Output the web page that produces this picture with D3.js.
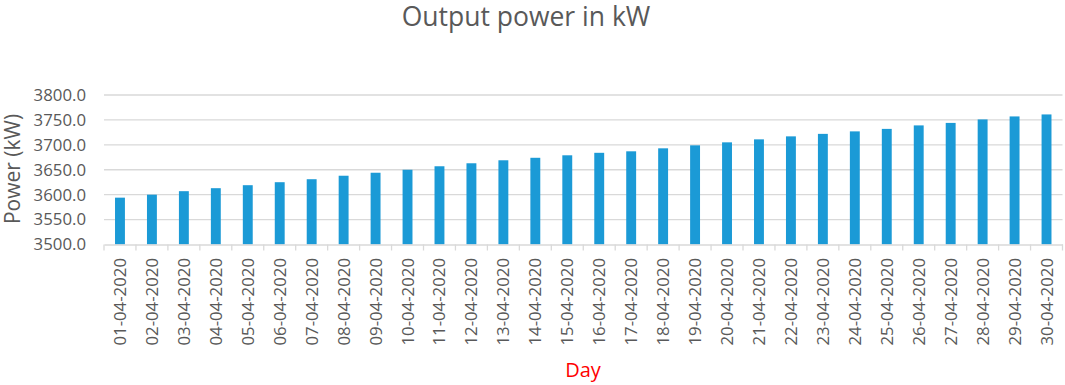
<!DOCTYPE html>
<html>
<head>
<meta charset="utf-8">
<script src="https://cdn.jsdelivr.net/npm/d3@7"></script>
<style>
  html, body { margin: 0; padding: 0; background: #ffffff; }
  svg { display: block; }
  text { font-family: "Open Sans", "Liberation Sans", sans-serif; }
</style>
</head>
<body>
<svg id="chart" width="1065" height="385"></svg>
<script>
const days = ["01-04-2020","02-04-2020","03-04-2020","04-04-2020","05-04-2020","06-04-2020","07-04-2020","08-04-2020","09-04-2020","10-04-2020",
  "11-04-2020","12-04-2020","13-04-2020","14-04-2020","15-04-2020","16-04-2020","17-04-2020","18-04-2020","19-04-2020","20-04-2020",
  "21-04-2020","22-04-2020","23-04-2020","24-04-2020","25-04-2020","26-04-2020","27-04-2020","28-04-2020","29-04-2020","30-04-2020"];
const power = [3594, 3600, 3607, 3613, 3619, 3625, 3631, 3638, 3644, 3650,
  3657, 3663, 3669, 3674, 3679, 3684, 3687, 3693, 3699, 3705,
  3711, 3717, 3722, 3727, 3732, 3739, 3744, 3751, 3757, 3761];
const yTicks = [3500, 3550, 3600, 3650, 3700, 3750, 3800];
const titleText = "Output power in kW";
const yTitle = "Power (kW)";
const xTitle = "Day";

(function () {
const svg = d3.select("#chart");
const mLeft = 104, mRight = 1062.5, mTop = 95, mBottom = 244.5;
const grey = "#595959", gridCol = "#d9d9d9", barCol = "#1b9ad6";

const x = d3.scaleBand().domain(days).range([mLeft, mRight]).paddingInner(0).paddingOuter(0);
const y = d3.scaleLinear().domain([3500, 3800]).range([mBottom, mTop]);

// gridlines
svg.append("g").selectAll("line").data(yTicks.filter(d => d > 3500)).join("line")
  .attr("x1", mLeft).attr("x2", mRight)
  .attr("y1", d => y(d)).attr("y2", d => y(d))
  .attr("stroke", gridCol).attr("stroke-width", 1.3);

// bars
const bw = x.bandwidth() * 0.31;
svg.append("g").selectAll("rect").data(power).join("rect")
  .attr("x", (d, i) => x(days[i]) + x.bandwidth() / 2 - bw / 2)
  .attr("width", bw)
  .attr("y", d => y(d))
  .attr("height", d => y(3500) - y(d))
  .attr("fill", barCol);

// x axis
const xAxis = d3.axisBottom(x).tickSize(0).tickFormat("");
const gx = svg.append("g").attr("transform", `translate(0,${mBottom})`).call(xAxis);
gx.select(".domain").attr("stroke", gridCol).attr("stroke-width", 1.3);
// boundary ticks
const bounds = days.map(d => x(d)).concat([mRight]);
svg.append("g").selectAll("line").data(bounds).join("line")
  .attr("x1", d => d).attr("x2", d => d)
  .attr("y1", mBottom).attr("y2", mBottom + 6)
  .attr("stroke", gridCol).attr("stroke-width", 1.3);

// x labels
svg.append("g").selectAll("text").data(days).join("text")
  .attr("transform", d => `translate(${x(d) + x.bandwidth() / 2 + 6},258) rotate(-90)`)
  .attr("text-anchor", "end")
  .attr("font-size", 16.8)
  .attr("fill", grey)
  .text(d => d);

// y axis labels
const yAxis = d3.axisLeft(y).tickValues(yTicks).tickSize(0).tickPadding(0).tickFormat(d3.format(".1f"));
const gy = svg.append("g").attr("transform", `translate(86,0)`).call(yAxis);
gy.select(".domain").remove();
gy.selectAll("text").attr("font-size", 16.8).attr("fill", grey)
  .attr("font-family", "'Open Sans', sans-serif");

// titles
svg.append("text").attr("x", 526).attr("y", 26).attr("text-anchor", "middle")
  .attr("font-size", 26.5).attr("fill", grey).text(titleText);

svg.append("text").attr("transform", `translate(20,169) rotate(-90)`)
  .attr("text-anchor", "middle").attr("font-size", 21).attr("fill", grey).text(yTitle);

svg.append("text").attr("x", 583).attr("y", 377).attr("text-anchor", "middle")
  .attr("font-size", 20).attr("fill", "#ff0000").text(xTitle);
})();
</script>
</body>
</html>
